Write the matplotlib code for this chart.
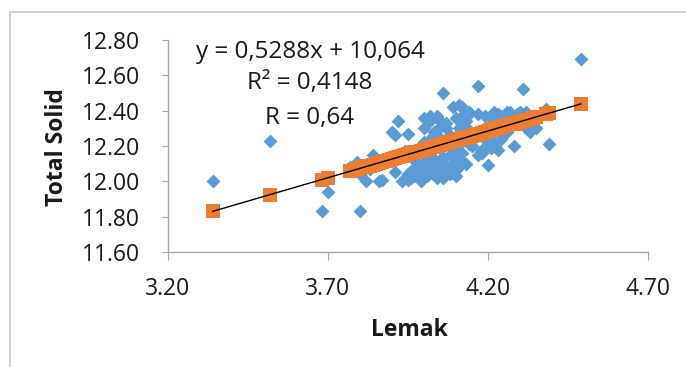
import numpy as np
import matplotlib.pyplot as plt
from matplotlib.patches import Rectangle

plt.rcParams['font.family'] = ['Open Sans', 'DejaVu Sans']

lemak = [3.34, 3.52, 3.68, 3.70, 3.70, 3.80, 3.77, 3.79, 3.80, 3.82,
         3.84, 3.86, 3.87, 3.85, 3.88, 3.90, 3.91, 3.92, 3.91, 3.93,
         3.95, 3.95, 3.94, 3.96, 3.97, 3.98, 3.99, 4.00, 4.00, 4.00,
         4.01, 4.01, 4.02, 4.02, 4.03, 4.03, 4.04, 4.04, 4.05, 4.05,
         4.06, 4.06, 4.06, 4.07, 4.07, 4.08, 4.08, 4.09, 4.09, 4.10,
         4.10, 4.11, 4.11, 4.12, 4.12, 4.12, 4.13, 4.13, 4.14, 4.15,
         4.17, 4.17, 4.18, 4.19, 4.20, 4.21, 4.21, 4.22, 4.22, 4.23,
         4.23, 4.24, 4.25, 4.26, 4.27, 4.27, 4.28, 4.29, 4.30, 4.31,
         4.31, 4.32, 4.33, 4.34, 4.35, 4.35, 4.38, 4.39, 4.49,
         3.98, 4.00, 4.01, 4.02, 4.03, 4.04, 4.05, 4.06, 4.07, 4.08,
         4.09, 4.10, 4.11, 4.12, 4.13, 4.14, 4.16, 4.18, 4.20, 4.22,
         4.24, 4.26, 4.28, 4.30, 4.32, 4.33, 3.78, 3.81, 3.83, 3.89,
         4.11, 4.14, 4.02, 4.05, 4.07, 4.12, 4.13, 4.17, 4.19, 4.23,
         4.25, 4.29, 4.22, 4.18, 4.20, 3.95, 3.96, 4.00, 4.03, 4.04,
         4.06, 4.08, 4.10, 4.02, 4.05, 4.09, 4.11, 3.97, 3.99, 4.01]
total_solid = [12.00, 12.23, 11.83, 11.94, 12.02, 11.83, 12.08, 12.11, 12.04, 12.00,
               12.15, 12.00, 12.01, 12.10, 12.12, 12.28, 12.26, 12.34, 12.05, 12.00,
               12.27, 12.01, 12.17, 12.06, 12.12, 12.05, 12.00, 12.36, 12.30, 12.22,
               12.10, 12.03, 12.34, 12.15, 12.07, 12.28, 12.37, 12.02, 12.31, 12.12,
               12.50, 12.20, 12.05, 12.33, 12.09, 12.26, 12.15, 12.42, 12.10, 12.36,
               12.18, 12.30, 12.13, 12.42, 12.37, 12.22, 12.34, 12.27, 12.38, 12.20,
               12.54, 12.15, 12.26, 12.30, 12.09, 12.36, 12.19, 12.39, 12.22, 12.33,
               12.18, 12.37, 12.30, 12.39, 12.34, 12.39, 12.20, 12.37, 12.39, 12.52,
               12.33, 12.39, 12.28, 12.37, 12.35, 12.30, 12.41, 12.21, 12.69,
               12.08, 12.04, 12.18, 12.24, 12.12, 12.26, 12.06, 12.14, 12.22, 12.04,
               12.20, 12.08, 12.24, 12.16, 12.10, 12.21, 12.25, 12.18, 12.22, 12.30,
               12.24, 12.28, 12.35, 12.33, 12.30, 12.36, 12.06, 12.09, 12.07, 12.14,
               12.43, 12.39, 12.37, 12.34, 12.30, 12.34, 12.31, 12.38, 12.37, 12.38,
               12.36, 12.38, 12.20, 12.16, 12.22, 12.04, 12.02, 12.08, 12.10, 12.05,
               12.02, 12.07, 12.03, 12.06, 12.04, 12.06, 12.08, 12.03, 12.09, 12.12]

# trendline from the chart
slope = 0.5288
intercept = 10.064

lemak = np.array(lemak)
total_solid = np.array(total_solid)
predicted = slope * lemak + intercept

fig = plt.figure(figsize=(6.86, 3.67), dpi=100)
ax = fig.add_axes([168 / 686, 1 - 252 / 367, 480 / 686, 212 / 367])

ax.scatter(lemak, total_solid, marker='D', s=50, color='#5B9BD5', linewidths=0, zorder=2)
ax.scatter(lemak, predicted, marker='s', s=92, color='#ED7D31', linewidths=0, zorder=3)
xl = np.array([lemak.min(), lemak.max()])
ax.plot(xl, slope * xl + intercept, color='black', lw=1, zorder=4)

ax.set_xlim(3.2, 4.7)
ax.set_ylim(11.6, 12.8)
ax.set_xticks([3.2, 3.7, 4.2, 4.7])
ax.set_yticks([11.6, 11.8, 12.0, 12.2, 12.4, 12.6, 12.8])
ax.xaxis.set_major_formatter(plt.FormatStrFormatter('%.2f'))
ax.yaxis.set_major_formatter(plt.FormatStrFormatter('%.2f'))

for s in ['top', 'right']:
    ax.spines[s].set_visible(False)
for s in ['left', 'bottom']:
    ax.spines[s].set_color('#A6A6A6')
    ax.spines[s].set_linewidth(1)
ax.tick_params(axis='y', direction='out', length=4, color='#A6A6A6', labelsize=16.5, pad=16, labelcolor='#1a1a1a')
ax.tick_params(axis='x', direction='out', length=6, color='#A6A6A6', labelsize=16.5, pad=12, labelcolor='#1a1a1a')

fig.text(57 / 686, 1 - 147 / 367, 'Total Solid', rotation=90, ha='center', va='center',
         fontsize=16.5, fontweight='bold', color='#1a1a1a')
fig.text(409 / 686, 1 - 330 / 367, 'Lemak', ha='center', va='center',
         fontsize=16.5, fontweight='bold', color='#1a1a1a')

fig.text(310 / 686, 1 - 52 / 367, 'y = 0,5288x + 10,064', ha='center', va='center', fontsize=17.5, color='#1a1a1a')
fig.text(310 / 686, 1 - 83 / 367, 'R² = 0,4148', ha='center', va='center', fontsize=17.5, color='#1a1a1a')
fig.text(310 / 686, 1 - 118 / 367, 'R = 0,64', ha='center', va='center', fontsize=17.5, color='#1a1a1a')

fig.patches.append(Rectangle((10 / 686, -0.1), 1.2, 1 - 12 / 367 + 0.1, transform=fig.transFigure,
                             fill=False, edgecolor='#C8C8C8', lw=1.2))

fig.savefig('out.png', dpi=100)
